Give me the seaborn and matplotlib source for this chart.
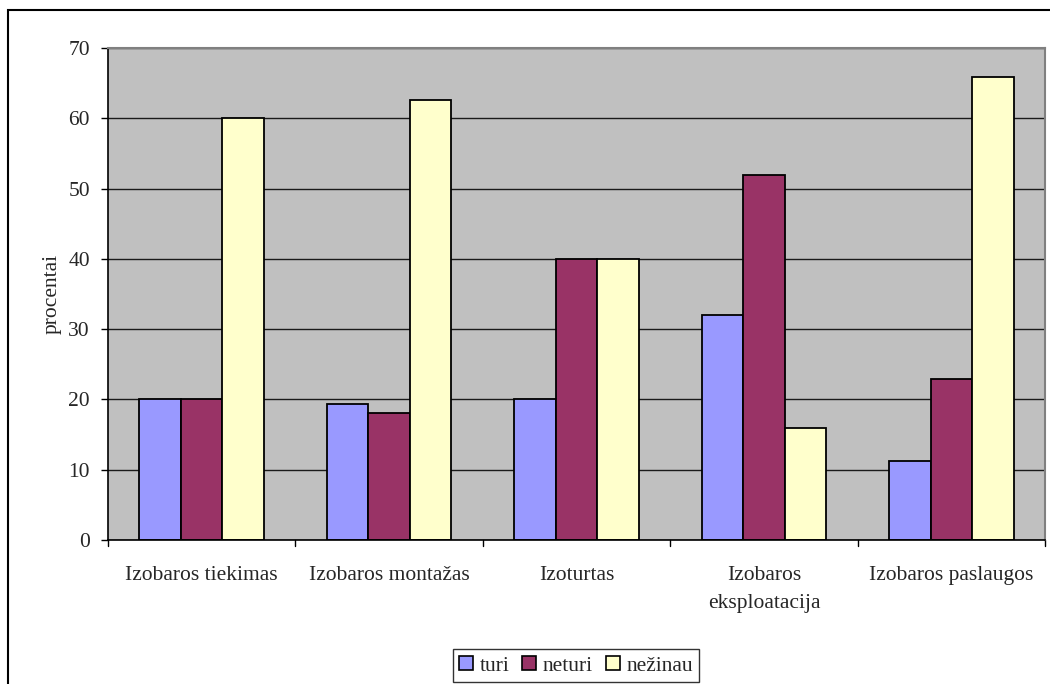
import matplotlib
matplotlib.use("Agg")
import matplotlib.pyplot as plt
from matplotlib.patches import Rectangle
import seaborn as sns
import pandas as pd

categories = ["Izobaros tiekimas", "Izobaros montažas", "Izoturtas",
              "Izobaros\neksploatacija", "Izobaros paslaugos"]
series = ["turi", "neturi", "nežinau"]
turi = [20, 19.4, 20, 32, 11.3]
neturi = [20, 18, 40, 52, 22.9]
nezinau = [60, 62.6, 40, 16, 65.9]
colors = ["#9999FF", "#993366", "#FFFFCC"]
y_ticks = [0, 10, 20, 30, 40, 50, 60, 70]

rows = []
for name, vals in zip(series, [turi, neturi, nezinau]):
    for cat, v in zip(categories, vals):
        rows.append({"kategorija": cat, "serija": name, "procentai": v})
df = pd.DataFrame(rows)

sns.set_theme(style="white")
plt.rcParams["font.family"] = ["Liberation Serif", "DejaVu Serif"]

FS = 15.5

fig = plt.figure(figsize=(10.5, 6.84), dpi=100)
ax = fig.add_axes([108 / 1050, 1 - 540 / 684, (1045 - 108) / 1050, (540 - 48) / 684])
ax.set_facecolor("#C0C0C0")

sns.barplot(data=df, x="kategorija", y="procentai", hue="serija",
            hue_order=series, palette=colors, saturation=1, width=0.665, gap=0,
            edgecolor="black", linewidth=1.3, ax=ax, legend=True)

ax.set_ylim(0, 70)
ax.set_xlim(-0.5, len(categories) - 0.5)
ax.set_yticks(y_ticks)
ax.set_yticklabels([str(t) for t in y_ticks], fontsize=FS)
ax.yaxis.grid(True, color="#1a1a1a", linewidth=1.0)
ax.set_axisbelow(True)

ax.set_xticks(range(len(categories)))
ax.set_xticklabels(categories, fontsize=FS, linespacing=1.6)
ax.tick_params(axis="x", length=0, pad=19)
ax.tick_params(axis="y", length=5, width=1, color="black", direction="out", pad=8, left=True)
# category boundary ticks below the axis
for b in range(len(categories) + 1):
    ax.plot([b - 0.5, b - 0.5], [0, -0.8], color="black", linewidth=1,
            clip_on=False, transform=ax.transData)

ax.set_xlabel("")
ax.set_ylabel("procentai", fontsize=FS, labelpad=5)

for side in ["left", "bottom"]:
    ax.spines[side].set_color("black")
    ax.spines[side].set_linewidth(1.2)
for side in ["top", "right"]:
    ax.spines[side].set_color("#808080")
    ax.spines[side].set_linewidth(1.5)

leg = ax.legend(loc="lower center", bbox_to_anchor=(576 / 1050, 2 / 684),
                bbox_transform=fig.transFigure, ncol=3, frameon=True,
                fancybox=False, edgecolor="black", fontsize=FS,
                handlelength=0.65, handleheight=0.65, handletextpad=0.3,
                columnspacing=0.6, borderpad=0.3, borderaxespad=0)
leg.get_frame().set_linewidth(1.0)
for h in leg.legend_handles:
    h.set_edgecolor("black")
    h.set_linewidth(1.2)

# outer chart border
fig.patches.append(Rectangle((8 / 1050, -0.05), 1.2, 1 - 10 / 684 + 0.05,
                             transform=fig.transFigure, fill=False,
                             edgecolor="black", linewidth=1.5, clip_on=False))

fig.savefig("out.png", dpi=100)
